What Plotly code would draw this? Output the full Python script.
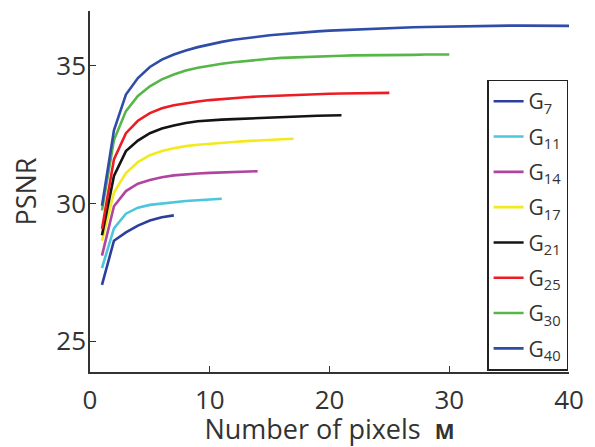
import plotly.graph_objects as go

# PSNR versus number of pixels M for each group size G_n
group_labels = ["G<sub>7</sub>", "G<sub>11</sub>", "G<sub>14</sub>", "G<sub>17</sub>",
                "G<sub>21</sub>", "G<sub>25</sub>", "G<sub>30</sub>", "G<sub>40</sub>"]
group_sizes = [7, 11, 14, 17, 21, 25, 30, 40]
line_colors = ["#2c3f9c", "#4cc6dc", "#b0449f", "#f2ea1c",
               "#141414", "#ec1c24", "#56b648", "#2f4ca8"]

psnr_g7 = [27.05, 28.65, 28.95, 29.2, 29.38, 29.5, 29.57]
psnr_g11 = [27.66, 29.1, 29.63, 29.85, 29.95, 30.0, 30.05, 30.09, 30.12, 30.15, 30.17]
psnr_g14 = [28.11, 29.9, 30.45, 30.72, 30.85, 30.95, 31.02, 31.06, 31.09, 31.11,
            31.13, 31.15, 31.16, 31.17]
psnr_g17 = [28.65, 30.4, 31.1, 31.5, 31.75, 31.9, 32.0, 32.08, 32.13, 32.17,
            32.2, 32.23, 32.26, 32.29, 32.31, 32.33, 32.35]
psnr_g21 = [28.85, 31.0, 31.9, 32.28, 32.55, 32.72, 32.83, 32.92, 32.98, 33.02,
            33.04, 33.06, 33.08, 33.1, 33.12, 33.14, 33.16, 33.17, 33.18, 33.19, 33.2]
psnr_g25 = [29.08, 31.6, 32.55, 33.0, 33.28, 33.45, 33.56, 33.64, 33.7, 33.75,
            33.79, 33.82, 33.85, 33.88, 33.9, 33.92, 33.94, 33.96, 33.97, 33.98,
            33.99, 34.0, 34.0, 34.01, 34.01]
psnr_g30 = [29.75, 32.3, 33.35, 33.9, 34.25, 34.5, 34.68, 34.82, 34.92, 35.0,
            35.07, 35.12, 35.17, 35.21, 35.25, 35.28, 35.3, 35.32, 35.34, 35.35,
            35.36, 35.37, 35.37, 35.38, 35.38, 35.39, 35.39, 35.4, 35.4, 35.4]
psnr_g40 = [29.92, 32.65, 33.95, 34.55, 34.95, 35.22, 35.4, 35.55, 35.67, 35.77,
            35.86, 35.94, 36.0, 36.05, 36.1, 36.14, 36.18, 36.21, 36.24, 36.27,
            36.29, 36.31, 36.33, 36.35, 36.36, 36.37, 36.39, 36.4, 36.41, 36.42,
            36.43, 36.44, 36.44, 36.45, 36.45, 36.45, 36.45, 36.45, 36.44, 36.44]

x_ticks = [0, 10, 20, 30, 40]
y_ticks = [25, 30, 35]

series = [psnr_g7, psnr_g11, psnr_g14, psnr_g17, psnr_g21, psnr_g25, psnr_g30, psnr_g40]

FONT = "Open Sans"
TEXT = "#333333"

fig = go.Figure()
for label, n, color, values in zip(group_labels, group_sizes, line_colors, series):
    fig.add_trace(go.Scatter(
        x=list(range(1, n + 1)), y=values, mode="lines", name=label,
        legendgroup=label,
        line=dict(color=color, width=2.6),
    ))

fig.update_layout(
    width=595, height=447,
    margin=dict(l=90, r=18, t=11, b=68),
    paper_bgcolor="white", plot_bgcolor="white",
    font=dict(family=FONT, color=TEXT, size=26),
    showlegend=True,
    legend=dict(
        x=0.829, y=0.81, xanchor="left", yanchor="top",
        bgcolor="white", bordercolor="#222222", borderwidth=1.5,
        font=dict(family=FONT, size=21, color=TEXT),
        tracegroupgap=5, itemwidth=30,
    ),
    xaxis=dict(
        range=[0, 40], tickvals=x_ticks, ticks="inside", ticklen=6,
        tickcolor="#333333", tickwidth=1.2,
        showline=True, linecolor="#333333", linewidth=1.5,
        showgrid=False, zeroline=False, ticklabelstandoff=4,
        tickfont=dict(family=FONT, size=26, color=TEXT),
        title=dict(text="Number of pixels  <b><span style='font-size:21px'>M</span></b>",
                   font=dict(family=FONT, size=27, color=TEXT), standoff=0),
    ),
    yaxis=dict(
        range=[23.89, 36.98], tickvals=y_ticks, ticks="inside", ticklen=6,
        tickcolor="#333333", tickwidth=1.2,
        showline=True, linecolor="#333333", linewidth=1.5,
        showgrid=False, zeroline=False, ticklabelstandoff=-3,
        tickfont=dict(family=FONT, size=26, color=TEXT),
        title=dict(text="PSNR", font=dict(family=FONT, size=27, color=TEXT), standoff=12),
    ),
)

fig.write_html("out.html")
